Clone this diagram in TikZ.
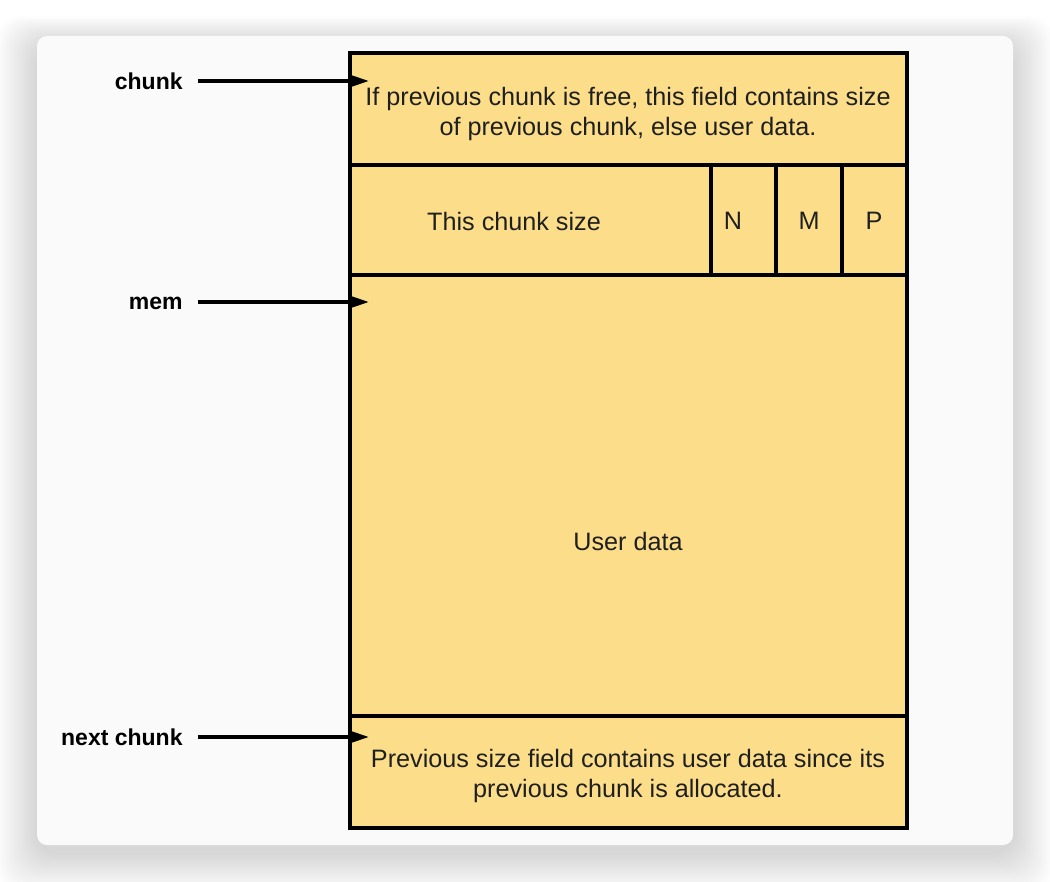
\documentclass[tikz,border=0pt]{standalone}
\usepackage{fontspec}
\setmainfont{Liberation Sans}
\usetikzlibrary{arrows.meta,positioning}
\definecolor{chunkyellow}{RGB}{252,222,138}
\definecolor{cardgray}{RGB}{250,250,250}
\tikzset{
  field/.style = {draw=black, line width=1.7pt, fill=chunkyellow, inner sep=0pt, outer sep=0pt},
  fieldtext/.style = {align=center, font=\fontsize{12.6}{15}\selectfont, text=black!88},
  ptrname/.style = {anchor=east, inner xsep=7.5pt, inner ysep=0pt, font=\fontsize{11.5}{13}\selectfont\bfseries},
  ptr/.style = {line width=1.6pt, -{Triangle[length=9pt,width=5.5pt]}}
}

\begin{document}
\begin{tikzpicture}[x=0.5pt, y=-0.5pt]
  \useasboundingbox (0,0) rectangle (1050,882);
  \fill[white] (0,0) rectangle (1050,882);
  \foreach \s in {2,4,...,40}
    \fill[black, opacity=0.007, rounded corners=12pt]
      (37-\s,36-\s*0.7+8) rectangle (1013+\s,845+\s+8);
  \fill[cardgray, rounded corners=5pt] (37,36) rectangle (1013,845);

  \node [field, minimum width=278.5pt, minimum height=56pt] (prevsize) at (628.5,109) {};
  \node [field, minimum width=180.5pt, minimum height=55pt] (size) at (530.5,220) {};
  \node [field, minimum width=32.5pt, minimum height=55pt] (bitn) at (743.5,220) {};
  \node [field, minimum width=33pt, minimum height=55pt] (bitm) at (809,220) {};
  \node [field, minimum width=32.5pt, minimum height=55pt] (bitp) at (874.5,220) {};
  \node [field, minimum width=278.5pt, minimum height=220.5pt] (userdata) at (628.5,495.5) {};
  \node [field, minimum width=278.5pt, minimum height=56pt] (nextprev) at (628.5,772) {};

  \node [fieldtext] (prevsizetext) at (628,114) {If previous chunk is free, this field contains size\\of previous chunk, else user data.};
  \node [fieldtext] (sizetext) at (514,221) {This chunk size};
  \node [fieldtext] (ntext) at (733,221) {N};
  \node [fieldtext] (mtext) at (809,221) {M};
  \node [fieldtext] (ptext) at (874,221) {P};
  \node [fieldtext] (userdatatext) at (628,541) {User data};
  \node [fieldtext] (nextprevtext) at (628,776) {Previous size field contains user data since its\\previous chunk is allocated.};

  \node [ptrname] (chunk) at (198,81) {chunk};
  \node [ptrname] (mem) at (198,303) {mem};
  \node [ptrname] (nextchunk) at (198,737) {next chunk};
  \coordinate (chunkat) at (369,81);
  \coordinate (memat) at (369,302);
  \coordinate (nextchunkat) at (369,737);

  \draw [ptr] (chunk.east |- chunkat) -- (chunkat);
  \draw [ptr] (mem.east |- memat) -- (memat);
  \draw [ptr] (nextchunk.east |- nextchunkat) -- (nextchunkat);
\end{tikzpicture}
\end{document}
